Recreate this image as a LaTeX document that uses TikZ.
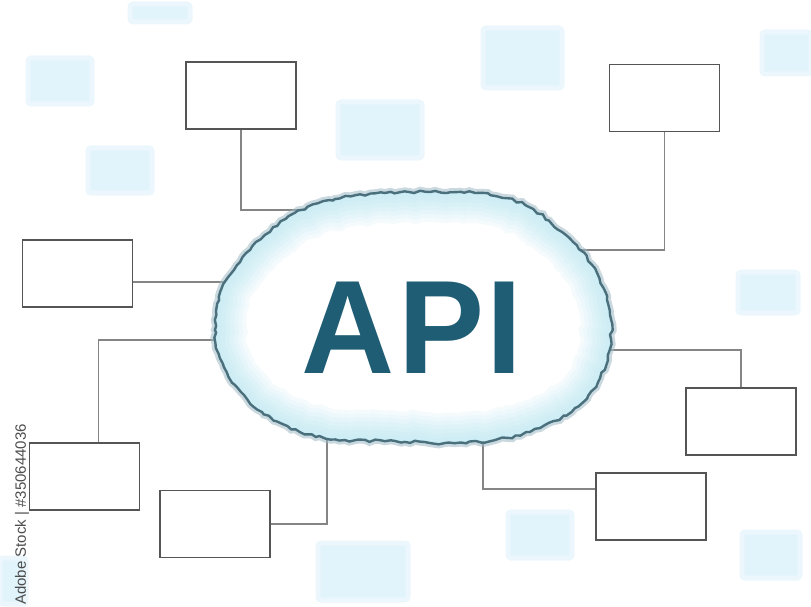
\documentclass[tikz,border=0pt]{standalone}
\usepackage{fontspec}
\setmainfont{Liberation Sans}
\usepackage{tikz}
\usetikzlibrary{positioning,calc,decorations.pathmorphing}
\definecolor{frame}{HTML}{555555}
\definecolor{wire}{HTML}{858585}
\definecolor{tileblue}{HTML}{E2F4FB}
\definecolor{rim}{HTML}{4A6F7D}
\definecolor{haze}{HTML}{9DBAC4}
\definecolor{mist}{HTML}{B6E6F1}
\definecolor{ink}{HTML}{1E5D74}
\newcommand{\cloudline}{plot[smooth cycle, tension=.65] coordinates {
  (215,330) (221,290) (240,262) (265,235) (295,213) (335,199) (385,193)
  (430,192) (482,193) (525,205) (562,232) (592,265) (607,300) (611,340)
  (600,378) (575,408) (540,428) (495,440) (445,443) (395,441) (345,440)
  (300,432) (262,412) (235,385) (220,358)}}

\begin{document}
\begin{tikzpicture}[
  x=1pt, y=-1pt,
  slot/.style={draw=frame, line width=1.7pt, fill=white, minimum width=110pt, minimum height=67pt, inner sep=0pt},
  link/.style={draw=wire, line width=1.2pt},
  tile/.style={fill=tileblue, draw=tileblue!70, line width=5pt, rounded corners=3pt},
  torn/.style={decorate, decoration={random steps, segment length=5pt, amplitude=1.4pt}}
]
\useasboundingbox (0,0) rectangle (811,607);

% faint squares behind
\fill[tile] (130,4) rectangle (190,22);
\fill[tile] (28,58) rectangle (92,104);
\fill[tile] (88,148) rectangle (152,193);
\fill[tile] (338,102) rectangle (422,158);
\fill[tile] (483,28) rectangle (562,88);
\fill[tile] (762,32) rectangle (811,74);
\fill[tile] (738,272) rectangle (798,313);
\fill[tile] (508,512) rectangle (572,558);
\fill[tile] (318,543) rectangle (408,600);
\fill[tile] (742,532) rectangle (800,578);
\fill[tile] (0,558) rectangle (26,604);

% boxes
\node[slot] (tl) at (241,95.5) {};
\node[slot] (tr) at (664.5,98) {};
\node[slot] (ml) at (77.5,273.5) {};
\node[slot] (bl) at (84.5,476.5) {};
\node[slot] (bm) at (215,524) {};
\node[slot] (br) at (651,506.5) {};
\node[slot] (mr) at (741,421.5) {};

% ends under the cloud
\coordinate (e1) at (305,210);
\coordinate (e2) at (570,250);
\coordinate (e3) at (235,282);
\coordinate (e4) at (225,340);
\coordinate (e5) at (327,430);
\coordinate (e6) at (483,430);
\coordinate (e7) at (600,350);

\draw[link] (tl.south) |- (e1);
\draw[link] (tr.south) |- (e2);
\draw[link] (e3 -| ml.east) -- (e3);
\draw[link] ([xshift=14pt]bl.north) |- (e4);
\draw[link] (bm.east) -| (e5);
\draw[link] (e6) |- ([yshift=17.5pt]br.west);
\draw[link] (mr.north) |- (e7);

% cloud
\pgfmathsetseed{11}
\draw[torn, haze, line width=8pt, opacity=.55] \cloudline;
\begin{scope}
  \pgfmathsetseed{11}
  \clip[torn] \cloudline;
  \fill[white] (200,180) rectangle (620,460);
  \foreach \w in {60,52,...,4} {
    \pgfmathsetseed{11}
    \draw[torn, mist, line width=\w pt, opacity=.13] \cloudline;
  }
\end{scope}
\pgfmathsetseed{11}
\draw[torn, rim, line width=2.4pt] \cloudline;

\node[ink, font=\fontsize{133}{133}\selectfont\bfseries, inner sep=0pt, xscale=.97] (api) at (411.5,327.5) {A\kern4pt P\kern2pt I};

\node[rotate=90, anchor=west, text=black!70, font=\fontsize{15}{15}\selectfont, inner sep=0pt] (mark) at (22,605) {Adobe Stock | \#350644036};
\end{tikzpicture}
\end{document}
